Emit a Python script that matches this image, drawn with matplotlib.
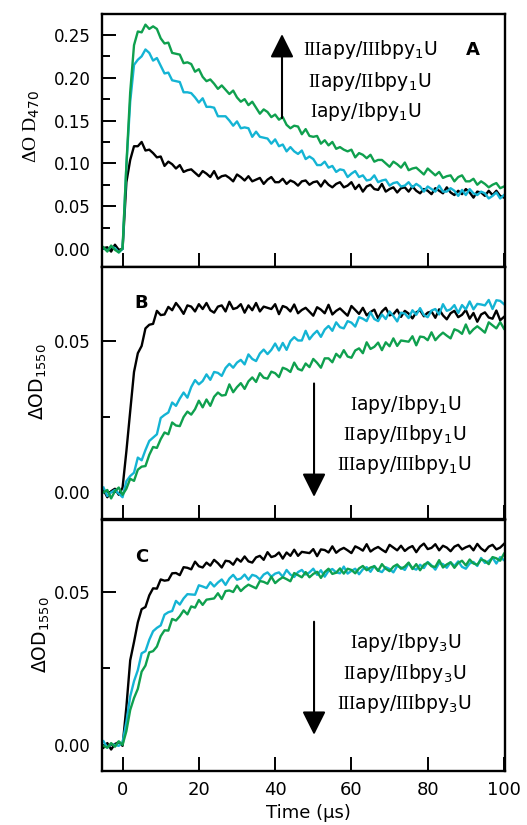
import numpy as np
import matplotlib as mpl
mpl.use('Agg')
import matplotlib.pyplot as plt
from matplotlib.ticker import MultipleLocator, FormatStrFormatter

mpl.rcParams['mathtext.fontset'] = 'custom'
mpl.rcParams['mathtext.rm'] = 'Liberation Serif'
mpl.rcParams['mathtext.sf'] = 'DejaVu Sans'
mpl.rcParams['mathtext.it'] = 'DejaVu Sans:italic'
mpl.rcParams['mathtext.bf'] = 'DejaVu Sans:bold'

# time axis in microseconds, one sample per microsecond
time = np.arange(-5, 101)

# panel A: delta OD at 470 nm
a_black = [0.001, 0.002, -0.003, 0.005, -0.001, 0.000,
           0.078, 0.104, 0.120, 0.120, 0.125, 0.115, 0.116, 0.112, 0.107, 0.108,
           0.097, 0.102, 0.099, 0.094, 0.098, 0.090, 0.092, 0.093, 0.089, 0.085,
           0.091, 0.088, 0.084, 0.091, 0.082, 0.085, 0.086, 0.083, 0.079, 0.087,
           0.084, 0.080, 0.085, 0.079, 0.081, 0.083, 0.076, 0.081, 0.084, 0.078,
           0.078, 0.082, 0.076, 0.080, 0.078, 0.074, 0.079, 0.080, 0.075, 0.078,
           0.079, 0.073, 0.080, 0.075, 0.072, 0.076, 0.078, 0.072, 0.074, 0.078,
           0.070, 0.075, 0.067, 0.073, 0.075, 0.070, 0.069, 0.076, 0.067, 0.070,
           0.072, 0.066, 0.071, 0.072, 0.067, 0.073, 0.068, 0.065, 0.070, 0.068,
           0.064, 0.071, 0.068, 0.065, 0.072, 0.066, 0.063, 0.068, 0.064, 0.070,
           0.066, 0.060, 0.067, 0.066, 0.062, 0.068, 0.063, 0.068, 0.062, 0.060]
a_cyan = [0.001, -0.002, 0.003, 0.001, -0.004, 0.000,
          0.097, 0.172, 0.215, 0.221, 0.225, 0.233, 0.229, 0.220, 0.223, 0.214,
          0.205, 0.206, 0.197, 0.196, 0.195, 0.183, 0.183, 0.182, 0.177, 0.171,
          0.176, 0.166, 0.166, 0.165, 0.155, 0.155, 0.155, 0.150, 0.144, 0.149,
          0.141, 0.142, 0.141, 0.131, 0.137, 0.131, 0.130, 0.129, 0.123, 0.128,
          0.120, 0.122, 0.114, 0.119, 0.114, 0.111, 0.115, 0.105, 0.108, 0.105,
          0.098, 0.098, 0.102, 0.095, 0.097, 0.090, 0.093, 0.092, 0.084, 0.088,
          0.091, 0.084, 0.086, 0.080, 0.081, 0.086, 0.078, 0.080, 0.081, 0.074,
          0.077, 0.078, 0.073, 0.074, 0.078, 0.072, 0.076, 0.073, 0.067, 0.073,
          0.070, 0.067, 0.074, 0.067, 0.067, 0.071, 0.068, 0.062, 0.069, 0.063,
          0.070, 0.065, 0.063, 0.067, 0.065, 0.059, 0.062, 0.066, 0.059, 0.063]
a_green = [0.002, -0.003, 0.004, -0.001, -0.004, 0.001,
           0.098, 0.183, 0.238, 0.254, 0.253, 0.262, 0.257, 0.260, 0.257, 0.246,
           0.240, 0.241, 0.229, 0.228, 0.227, 0.217, 0.218, 0.216, 0.207, 0.210,
           0.201, 0.196, 0.198, 0.193, 0.187, 0.191, 0.186, 0.181, 0.185, 0.177,
           0.172, 0.175, 0.168, 0.172, 0.165, 0.158, 0.163, 0.160, 0.154, 0.157,
           0.151, 0.154, 0.145, 0.141, 0.144, 0.143, 0.134, 0.140, 0.132, 0.131,
           0.132, 0.123, 0.127, 0.121, 0.125, 0.117, 0.119, 0.116, 0.114, 0.116,
           0.107, 0.112, 0.110, 0.106, 0.110, 0.102, 0.104, 0.104, 0.100, 0.096,
           0.102, 0.099, 0.095, 0.101, 0.092, 0.094, 0.095, 0.091, 0.087, 0.094,
           0.090, 0.086, 0.090, 0.083, 0.085, 0.086, 0.079, 0.084, 0.086, 0.079,
           0.079, 0.082, 0.075, 0.079, 0.076, 0.072, 0.075, 0.077, 0.071, 0.073]

# panel B: delta OD at 1550 nm, bpy1U series
b_black = [0.0008, -0.0016, 0.0004, 0.0012, -0.0008, 0.0016,
           0.0136, 0.0268, 0.0398, 0.0460, 0.0484, 0.0542, 0.0554, 0.0557, 0.0600, 0.0586,
           0.0588, 0.0613, 0.0602, 0.0626, 0.0610, 0.0590, 0.0618, 0.0614, 0.0598, 0.0622,
           0.0606, 0.0626, 0.0602, 0.0594, 0.0614, 0.0618, 0.0598, 0.0630, 0.0606, 0.0610,
           0.0622, 0.0594, 0.0618, 0.0602, 0.0626, 0.0598, 0.0614, 0.0610, 0.0606, 0.0622,
           0.0589, 0.0616, 0.0611, 0.0598, 0.0621, 0.0592, 0.0603, 0.0610, 0.0597, 0.0584,
           0.0612, 0.0604, 0.0592, 0.0620, 0.0588, 0.0600, 0.0608, 0.0596, 0.0584, 0.0616,
           0.0603, 0.0590, 0.0610, 0.0585, 0.0596, 0.0604, 0.0575, 0.0598, 0.0610, 0.0585,
           0.0589, 0.0604, 0.0580, 0.0600, 0.0591, 0.0575, 0.0595, 0.0602, 0.0582, 0.0594,
           0.0598, 0.0577, 0.0605, 0.0585, 0.0572, 0.0592, 0.0600, 0.0579, 0.0587, 0.0603,
           0.0574, 0.0593, 0.0564, 0.0588, 0.0595, 0.0578, 0.0574, 0.0601, 0.0569, 0.0580]
b_cyan = [0.0016, -0.0012, 0.0000, 0.0008, -0.0004, -0.0016,
          0.0037, 0.0054, 0.0065, 0.0115, 0.0106, 0.0140, 0.0170, 0.0181, 0.0192, 0.0246,
          0.0256, 0.0264, 0.0297, 0.0286, 0.0310, 0.0330, 0.0313, 0.0348, 0.0371, 0.0357,
          0.0368, 0.0390, 0.0372, 0.0398, 0.0395, 0.0385, 0.0411, 0.0425, 0.0412, 0.0429,
          0.0438, 0.0423, 0.0456, 0.0441, 0.0434, 0.0459, 0.0472, 0.0457, 0.0471, 0.0492,
          0.0469, 0.0494, 0.0471, 0.0500, 0.0513, 0.0502, 0.0502, 0.0534, 0.0506, 0.0522,
          0.0534, 0.0514, 0.0538, 0.0550, 0.0534, 0.0562, 0.0546, 0.0542, 0.0566, 0.0561,
          0.0548, 0.0579, 0.0574, 0.0566, 0.0595, 0.0573, 0.0566, 0.0588, 0.0573, 0.0598,
          0.0583, 0.0565, 0.0594, 0.0591, 0.0576, 0.0602, 0.0587, 0.0609, 0.0586, 0.0579,
          0.0601, 0.0606, 0.0588, 0.0622, 0.0600, 0.0605, 0.0619, 0.0593, 0.0619, 0.0605,
          0.0631, 0.0605, 0.0623, 0.0621, 0.0618, 0.0636, 0.0606, 0.0635, 0.0633, 0.0622]
b_green = [0.0000, 0.0008, -0.0020, 0.0004, 0.0016, -0.0008,
           0.0012, 0.0045, 0.0038, 0.0075, 0.0085, 0.0087, 0.0124, 0.0150, 0.0147, 0.0176,
           0.0198, 0.0192, 0.0231, 0.0221, 0.0219, 0.0249, 0.0267, 0.0257, 0.0275, 0.0303,
           0.0281, 0.0307, 0.0286, 0.0316, 0.0330, 0.0320, 0.0322, 0.0357, 0.0331, 0.0348,
           0.0361, 0.0342, 0.0367, 0.0380, 0.0365, 0.0394, 0.0379, 0.0376, 0.0399, 0.0394,
           0.0381, 0.0412, 0.0407, 0.0398, 0.0429, 0.0408, 0.0403, 0.0426, 0.0414, 0.0441,
           0.0428, 0.0412, 0.0443, 0.0443, 0.0430, 0.0458, 0.0446, 0.0470, 0.0449, 0.0445,
           0.0469, 0.0476, 0.0460, 0.0496, 0.0474, 0.0481, 0.0495, 0.0470, 0.0496, 0.0483,
           0.0509, 0.0484, 0.0502, 0.0500, 0.0498, 0.0516, 0.0486, 0.0515, 0.0513, 0.0503,
           0.0529, 0.0503, 0.0517, 0.0528, 0.0518, 0.0509, 0.0539, 0.0534, 0.0524, 0.0555,
           0.0525, 0.0539, 0.0549, 0.0539, 0.0528, 0.0562, 0.0552, 0.0542, 0.0563, 0.0541]

# panel C: delta OD at 1550 nm, bpy3U series
c_black = [-0.0009, 0.0006, -0.0015, 0.0003, 0.0009, -0.0003,
           0.0124, 0.0276, 0.0336, 0.0400, 0.0443, 0.0450, 0.0488, 0.0511, 0.0510, 0.0540,
           0.0536, 0.0538, 0.0560, 0.0561, 0.0554, 0.0580, 0.0578, 0.0573, 0.0598, 0.0583,
           0.0579, 0.0595, 0.0585, 0.0604, 0.0593, 0.0579, 0.0601, 0.0599, 0.0588, 0.0608,
           0.0598, 0.0615, 0.0599, 0.0595, 0.0612, 0.0617, 0.0604, 0.0629, 0.0613, 0.0617,
           0.0628, 0.0608, 0.0628, 0.0617, 0.0637, 0.0617, 0.0630, 0.0628, 0.0626, 0.0639,
           0.0616, 0.0638, 0.0636, 0.0628, 0.0648, 0.0627, 0.0637, 0.0643, 0.0635, 0.0626,
           0.0648, 0.0642, 0.0634, 0.0655, 0.0631, 0.0640, 0.0646, 0.0637, 0.0629, 0.0653,
           0.0644, 0.0635, 0.0650, 0.0633, 0.0643, 0.0649, 0.0629, 0.0647, 0.0657, 0.0639,
           0.0643, 0.0655, 0.0635, 0.0650, 0.0644, 0.0632, 0.0647, 0.0653, 0.0638, 0.0645,
           0.0650, 0.0635, 0.0656, 0.0641, 0.0632, 0.0647, 0.0653, 0.0638, 0.0644, 0.0656]
c_cyan = [0.0012, -0.0009, 0.0003, 0.0000, -0.0003, 0.0009,
          0.0075, 0.0158, 0.0208, 0.0244, 0.0299, 0.0306, 0.0343, 0.0371, 0.0382, 0.0390,
          0.0425, 0.0433, 0.0437, 0.0470, 0.0458, 0.0478, 0.0492, 0.0491, 0.0490, 0.0521,
          0.0517, 0.0512, 0.0531, 0.0517, 0.0530, 0.0540, 0.0522, 0.0543, 0.0555, 0.0539,
          0.0543, 0.0556, 0.0539, 0.0555, 0.0551, 0.0540, 0.0556, 0.0563, 0.0549, 0.0559,
          0.0563, 0.0549, 0.0571, 0.0556, 0.0548, 0.0564, 0.0571, 0.0556, 0.0563, 0.0575,
          0.0555, 0.0570, 0.0549, 0.0568, 0.0574, 0.0563, 0.0560, 0.0582, 0.0559, 0.0568,
          0.0575, 0.0557, 0.0573, 0.0580, 0.0565, 0.0584, 0.0569, 0.0564, 0.0580, 0.0574,
          0.0563, 0.0584, 0.0579, 0.0571, 0.0593, 0.0577, 0.0572, 0.0588, 0.0577, 0.0597,
          0.0586, 0.0572, 0.0593, 0.0590, 0.0578, 0.0596, 0.0584, 0.0599, 0.0581, 0.0575,
          0.0592, 0.0597, 0.0584, 0.0610, 0.0594, 0.0600, 0.0611, 0.0592, 0.0613, 0.0603]
c_green = [-0.0003, -0.0009, 0.0006, -0.0006, 0.0012, 0.0000,
           0.0045, 0.0114, 0.0153, 0.0183, 0.0239, 0.0259, 0.0302, 0.0306, 0.0321, 0.0355,
           0.0374, 0.0373, 0.0411, 0.0406, 0.0420, 0.0439, 0.0426, 0.0452, 0.0448, 0.0473,
           0.0457, 0.0474, 0.0476, 0.0478, 0.0495, 0.0476, 0.0502, 0.0504, 0.0499, 0.0520,
           0.0502, 0.0514, 0.0523, 0.0517, 0.0511, 0.0535, 0.0532, 0.0526, 0.0549, 0.0528,
           0.0539, 0.0547, 0.0541, 0.0534, 0.0561, 0.0554, 0.0547, 0.0564, 0.0547, 0.0558,
           0.0565, 0.0545, 0.0564, 0.0575, 0.0558, 0.0562, 0.0576, 0.0559, 0.0575, 0.0571,
           0.0560, 0.0576, 0.0584, 0.0570, 0.0579, 0.0583, 0.0568, 0.0590, 0.0575, 0.0567,
           0.0582, 0.0589, 0.0575, 0.0582, 0.0595, 0.0574, 0.0590, 0.0570, 0.0588, 0.0595,
           0.0583, 0.0581, 0.0603, 0.0579, 0.0589, 0.0596, 0.0578, 0.0594, 0.0601, 0.0586,
           0.0605, 0.0592, 0.0588, 0.0605, 0.0601, 0.0590, 0.0613, 0.0609, 0.0601, 0.0624]

numerals = ['I', 'II', 'III']
x_ticks = [0, 20, 40, 60, 80, 100]
a_yticks = [0.00, 0.05, 0.10, 0.15, 0.20, 0.25]
bc_yticks = [0.00, 0.05]

trace_colors = ['#000000', '#14b4d4', '#0fa04e']


def sample_label(num, n):
    return r'$\mathrm{%s}$apy/$\mathrm{%s}$bpy$_{\mathsf{%d}}$U' % (num, num, n)


def style_axis(ax, ylim, yticks, yminor):
    ax.set_xlim(-5.4, 100.3)
    ax.set_ylim(*ylim)
    ax.set_xticks(x_ticks)
    ax.set_yticks(yticks)
    ax.yaxis.set_minor_locator(MultipleLocator(yminor))
    ax.yaxis.set_major_formatter(FormatStrFormatter('%.2f'))
    ax.tick_params(which='major', direction='in', length=10, width=1.4,
                   labelsize=12, pad=8)
    ax.tick_params(which='minor', direction='in', length=5.5, width=1.4)
    ax.tick_params(axis='x', which='minor', length=0)
    for sp in ax.spines.values():
        sp.set_linewidth(1.7)


def draw_traces(ax, series):
    for ys, col in zip(series, trace_colors):
        ax.plot(time, ys, color=col, lw=1.7)


def down_arrow(ax, x, y_tail, y_tip):
    ax.annotate('', xy=(x, y_tip), xytext=(x, y_tail),
                arrowprops=dict(arrowstyle='-|>,head_length=0.72,head_width=0.36',
                                mutation_scale=20, lw=1.5, color='black',
                                shrinkA=0, shrinkB=0))


fig = plt.figure(figsize=(5.27, 8.25), dpi=100)
left, width = 0.1935, 0.765
ax_a = fig.add_axes([left, 0.6764, width, 0.3067])
ax_b = fig.add_axes([left, 0.3709, width, 0.3055], sharex=ax_a)
ax_c = fig.add_axes([left, 0.0655, width, 0.3042], sharex=ax_a)

# panel A
draw_traces(ax_a, [a_black, a_cyan, a_green])
style_axis(ax_a, (-0.021, 0.2745), a_yticks, 0.025)
ax_a.tick_params(labelbottom=False)
down_arrow(ax_a, 41.8, 0.153, 0.251)
for i, (xx, yy) in enumerate(zip([0.655, 0.663, 0.667], [0.592, 0.713, 0.838])):
    ax_a.text(xx, yy, sample_label(numerals[i], 1), transform=ax_a.transAxes,
              ha='center', va='baseline', fontsize=13.5)
ax_a.text(0.919, 0.838, 'A', transform=ax_a.transAxes, ha='center',
          va='baseline', fontsize=13, fontweight='bold')
ax_a.text(-0.174, 0.553, r'ΔO D$_{\mathsf{470}}$', transform=ax_a.transAxes,
          rotation=90, ha='center', va='center', fontsize=14,
          family='Liberation Serif')

# panel B
draw_traces(ax_b, [b_black, b_cyan, b_green])
style_axis(ax_b, (-0.0088, 0.0745), bc_yticks, 0.025)
ax_b.tick_params(labelbottom=False)
down_arrow(ax_b, 50.2, 0.036, -0.0015)
for i, (xx, yy) in enumerate(zip([0.754, 0.751, 0.750], [0.4325, 0.3135, 0.194])):
    ax_b.text(xx, yy, sample_label(numerals[i], 1), transform=ax_b.transAxes,
              ha='center', va='baseline', fontsize=13.5)
ax_b.text(0.0985, 0.836, 'B', transform=ax_b.transAxes, ha='center',
          va='baseline', fontsize=13, fontweight='bold')
ax_b.text(-0.159, 0.546, r'ΔOD$_{\mathsf{1550}}$', transform=ax_b.transAxes,
          rotation=90, ha='center', va='center', fontsize=13.5)

# panel C
draw_traces(ax_c, [c_black, c_cyan, c_green])
style_axis(ax_c, (-0.0085, 0.0734), bc_yticks, 0.025)
down_arrow(ax_c, 50.2, 0.0402, 0.0033)
for i, (xx, yy) in enumerate(zip([0.754, 0.750, 0.750], [0.489, 0.3665, 0.247])):
    ax_c.text(xx, yy, sample_label(numerals[i], 3), transform=ax_c.transAxes,
              ha='center', va='baseline', fontsize=13.5)
ax_c.text(0.0985, 0.834, 'C', transform=ax_c.transAxes, ha='center',
          va='baseline', fontsize=13, fontweight='bold')
ax_c.text(-0.151, 0.542, r'ΔOD$_{\mathsf{1550}}$', transform=ax_c.transAxes,
          rotation=90, ha='center', va='center', fontsize=13.5)
ax_c.tick_params(axis='x', labelsize=13, pad=7)
ax_c.text(0.511, -0.167, 'Time (μs)', transform=ax_c.transAxes,
          ha='center', va='center', fontsize=13)

fig.savefig('out.png', dpi=100)
